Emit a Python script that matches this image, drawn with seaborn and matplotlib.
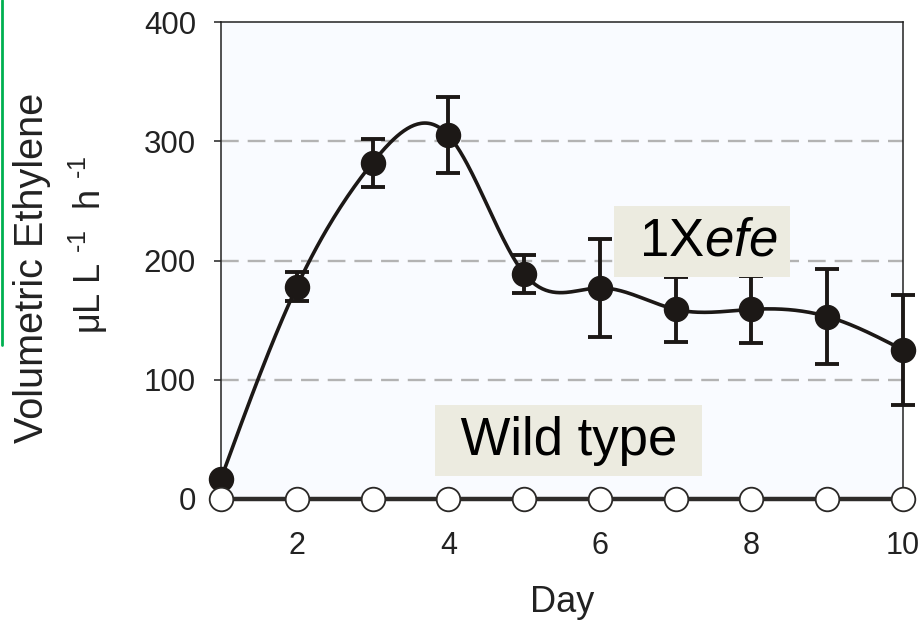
import numpy as np
import pandas as pd
import matplotlib
matplotlib.use("Agg")
import matplotlib.pyplot as plt
from matplotlib.lines import Line2D
import seaborn as sns

# ---- data ----
days = [1, 2, 3, 4, 5, 6, 7, 8, 9, 10]
efe_mean = [17, 178, 282, 305, 189, 177, 159, 159, 153, 125]
efe_err = [0, 12, 20, 32, 16, 41, 27, 28, 40, 46]
wild_mean = [0, 0, 0, 0, 0, 0, 0, 0, 0, 0]
y_ticks = [0, 100, 200, 300, 400]
x_ticks = [2, 4, 6, 8, 10]
label_efe = "1X$\\mathit{efe}$"
label_wild = "Wild type"
xlabel = "Day"
ylabel1 = "Volumetric Ethylene"
ylabel2 = "μL L $^{\\text{-1}}$  h $^{\\text{-1}}$"

sns.set_theme(style="white")
plt.rcParams["font.family"] = ["Liberation Sans", "DejaVu Sans"]
plt.rcParams["mathtext.fontset"] = "custom"
plt.rcParams["mathtext.rm"] = "Liberation Sans"
plt.rcParams["mathtext.it"] = "Liberation Sans:italic"
plt.rcParams["mathtext.default"] = "regular"


def natural_spline(x, y, n=400):
    x = np.asarray(x, float)
    y = np.asarray(y, float)
    k = len(x)
    h = np.diff(x)
    A = np.zeros((k, k))
    b = np.zeros(k)
    A[0, 0] = 1
    A[-1, -1] = 1
    for i in range(1, k - 1):
        A[i, i - 1] = h[i - 1]
        A[i, i] = 2 * (h[i - 1] + h[i])
        A[i, i + 1] = h[i]
        b[i] = 3 * ((y[i + 1] - y[i]) / h[i] - (y[i] - y[i - 1]) / h[i - 1])
    c = np.linalg.solve(A, b)
    xs = np.linspace(x[0], x[-1], n)
    ys = np.empty_like(xs)
    for j, xv in enumerate(xs):
        i = min(np.searchsorted(x, xv, side="right") - 1, k - 2)
        dx = xv - x[i]
        bi = (y[i + 1] - y[i]) / h[i] - h[i] * (2 * c[i] + c[i + 1]) / 3
        di = (c[i + 1] - c[i]) / (3 * h[i])
        ys[j] = y[i] + bi * dx + c[i] * dx ** 2 + di * dx ** 3
    return xs, ys


fig = plt.figure(figsize=(9.24, 6.23), dpi=100)
ax = fig.add_axes([221 / 924, 1 - 499 / 623, 682 / 924, 477 / 623])
ax.set_facecolor("#f9fbff")

# grid
for v in y_ticks[1:-1]:
    ax.axhline(v, color="#b3b3b3", lw=1.7, dashes=(7.5, 3.8), zorder=1)

# smooth curve for 1Xefe
xs, ys = natural_spline(days, efe_mean)
curve = pd.DataFrame({"Day": xs, "val": ys})
sns.lineplot(data=curve, x="Day", y="val", ax=ax, color="#1c1816", lw=2.6,
             zorder=3, sort=False)

# error bars
ax.errorbar(days, efe_mean, yerr=efe_err, fmt="none", ecolor="#1c1816",
            elinewidth=2.8, capsize=8.5, capthick=2.8, zorder=4, clip_on=False)

df_efe = pd.DataFrame({"Day": days, "val": efe_mean})
sns.scatterplot(data=df_efe, x="Day", y="val", ax=ax, s=300, color="#1c1816",
                edgecolor="#1c1816", linewidth=1, zorder=5, clip_on=False)

# wild type
df_wild = pd.DataFrame({"Day": days, "val": wild_mean})
sns.lineplot(data=df_wild, x="Day", y="val", ax=ax, color="#2e2c2a", lw=3.2,
             marker="o", markersize=17, markerfacecolor="white",
             markeredgecolor="#2a2826", markeredgewidth=1.3, zorder=6,
             clip_on=False)

ax.set_xlim(1, 10)
ax.set_ylim(0, 400)
ax.set_yticks(y_ticks)
ax.set_xticks(x_ticks)
ax.set_xticklabels([str(t) for t in x_ticks])
ax.set_yticklabels([str(t) for t in y_ticks])
ax.tick_params(axis="y", direction="out", length=5, width=1.1, color="#222222",
               pad=13, labelsize=22.5, labelcolor="#222222", left=True)
ax.tick_params(axis="x", length=0, pad=23, labelsize=22, labelcolor="#222222")
ax.set_xlabel("")
ax.set_ylabel("")
for s in ax.spines.values():
    s.set_visible(True)
    s.set_color("#222222")
    s.set_linewidth(1.1)

# label boxes
box = dict(boxstyle="square,pad=0.2", facecolor="#ecebe0", edgecolor="none")
ax.text(5.59, 49, " " + label_wild + " ", fontsize=38, color="black",
        ha="center", va="center", bbox=box, zorder=7)
ax.text(7.35, 216, " " + label_efe + " ", fontsize=38, color="black",
        ha="center", va="center", bbox=box, zorder=7)

# axis titles
fig.text(562 / 924, 1 - 603 / 623, xlabel, fontsize=26, color="#222222",
         ha="center", va="center")
fig.text(32 / 924, 1 - 268 / 623, ylabel1, fontsize=28.5, color="#222222",
         ha="center", va="center", rotation=90)
fig.text(88 / 924, 1 - 245 / 623, ylabel2, fontsize=26, color="#222222",
         ha="center", va="center", rotation=90)

# green edge line
fig.add_artist(Line2D([1.5 / 924, 1.5 / 924], [1.0, 1 - 345 / 623],
                      transform=fig.transFigure, color="#00b050", lw=2))

fig.savefig("out.png", dpi=100)
